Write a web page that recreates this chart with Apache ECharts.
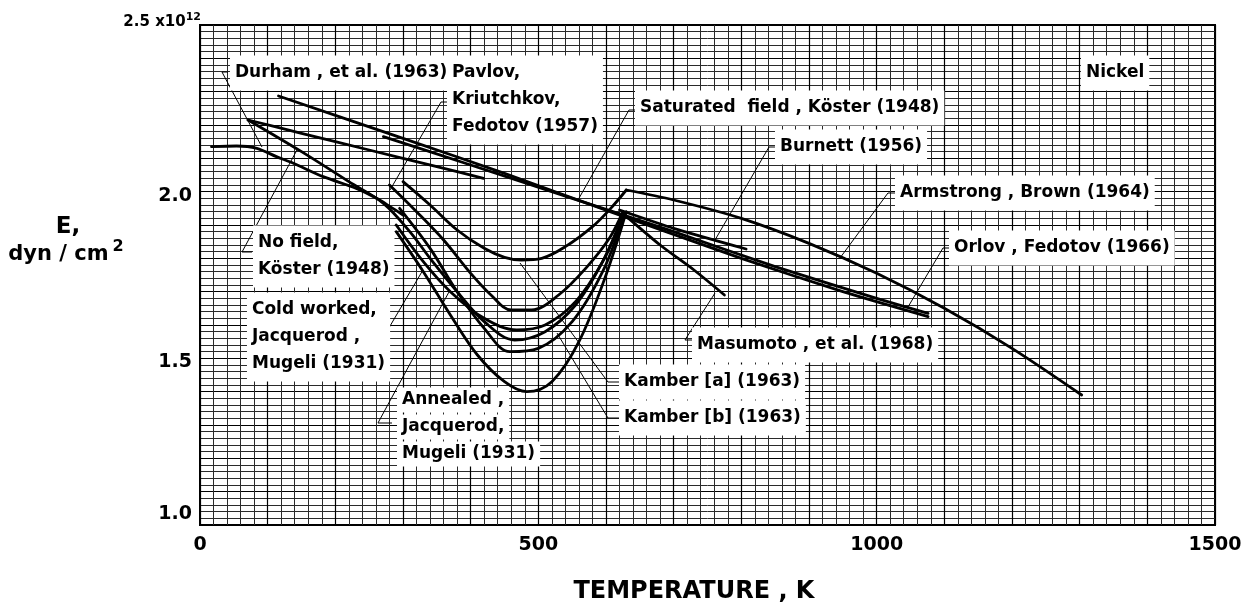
<!DOCTYPE html>
<html>
<head>
<meta charset="utf-8">
<script src="https://cdn.jsdelivr.net/npm/echarts@6/dist/echarts.min.js"></script>
<style>
  html, body { margin: 0; padding: 0; background: #fff; }
  #chart { width: 1246px; height: 606px; }
</style>
</head>
<body>
<div id="chart"></div>
<script>
// Axis tick labels
const tempTickLabels = [0, 500, 1000, 1500];
const modulusTickLabels = [1.0, 1.5, 2.0];

// Young's modulus of nickel, E (10^12 dyn/cm^2) versus temperature (K)
const durham = [[17, 2.135], [54, 2.137], [84, 2.13], [113, 2.105], [138, 2.085], [182, 2.045], [231, 2.01], [261, 1.98], [281, 1.955], [300, 1.93]];
const kosterSaturated = [[116, 2.287], [300, 2.16], [450, 2.055], [606, 1.94], [800, 1.80], [950, 1.70], [1076, 1.625]];
const kosterPartialField = [[71, 2.215], [150, 2.175], [250, 2.125], [350, 2.075], [419, 2.04]];
const kosterNoField = [[71, 2.215], [150, 2.12], [220, 2.03], [271, 1.965], [310, 1.88], [340, 1.80], [380, 1.70], [420, 1.61], [465, 1.555], [510, 1.58], [555, 1.66], [595, 1.79], [625, 1.93]];
const orlovFedotov = [[271, 2.165], [400, 2.08], [550, 1.98], [700, 1.88], [850, 1.775], [1000, 1.68], [1076, 1.635]];
const pavlov = [[280, 2.02], [320, 1.94], [360, 1.855], [400, 1.755], [430, 1.69], [460, 1.645], [490, 1.645], [530, 1.69], [570, 1.77], [605, 1.86], [625, 1.94]];
const kamberA = [[300, 2.03], [340, 1.96], [380, 1.885], [420, 1.83], [450, 1.803], [475, 1.795], [505, 1.80], [540, 1.835], [580, 1.895], [607, 1.95], [630, 2.005]];
const kamberB = [[295, 1.95], [340, 1.83], [380, 1.70], [420, 1.59], [458, 1.52], [500, 1.53], [550, 1.61], [595, 1.76], [625, 1.92]];
const annealed = [[290, 1.90], [330, 1.79], [370, 1.70], [420, 1.62], [468, 1.585], [510, 1.60], [555, 1.67], [595, 1.79], [625, 1.925]];
const coldWorked = [[290, 1.88], [330, 1.76], [370, 1.63], [410, 1.51], [450, 1.43], [483, 1.40], [520, 1.43], [560, 1.55], [600, 1.75], [630, 1.94]];
const armstrongBrown = [[630, 2.005], [700, 1.975], [800, 1.92], [900, 1.845], [1000, 1.755], [1100, 1.65], [1200, 1.53], [1303, 1.39]];
const burnett = [[620, 1.945], [700, 1.89], [807, 1.828]];
const masumoto = [[625, 1.935], [680, 1.84], [730, 1.765], [775, 1.69]];

const curves = [
  { name: 'Durham', data: durham, smooth: 0.3 },
  { name: 'Köster saturated', data: kosterSaturated, smooth: 0.2 },
  { name: 'Köster partial', data: kosterPartialField, smooth: 0.2 },
  { name: 'Köster no field', data: kosterNoField, smooth: 0.35 },
  { name: 'Orlov', data: orlovFedotov, smooth: 0.2 },
  { name: 'Pavlov', data: pavlov, smooth: 0.35 },
  { name: 'Kamber a', data: kamberA, smooth: 0.35 },
  { name: 'Kamber b', data: kamberB, smooth: 0.35 },
  { name: 'Annealed', data: annealed, smooth: 0.35 },
  { name: 'Cold worked', data: coldWorked, smooth: 0.35 },
  { name: 'Armstrong', data: armstrongBrown, smooth: 0.3 },
  { name: 'Burnett', data: burnett, smooth: 0.2 },
  { name: 'Masumoto', data: masumoto, smooth: 0.3 }
];

// Callout labels: text lines, anchor of the first line (left edge), leader polyline,
// and whether the white backing is one block or one strip per line
const FONT_FAMILY = '"DejaVu Sans", Verdana, sans-serif';
const FONT = 'bold 17px ' + FONT_FAMILY;
const callouts = [
  { lines: ['Durham , et al. (1963)'], at: [51.7, 2.356], leader: [[41.4, 2.359], [32.5, 2.359], [91.6, 2.134]] },
  { lines: ['Pavlov,', 'Kriutchkov,', 'Fedotov (1957)'], at: [372.4, 2.356], leader: [[365.0, 2.269], [356.2, 2.269], [280.8, 2.005]] },
  { lines: ['Saturated  field , Köster (1948)'], at: [650.2, 2.251], leader: [[644.3, 2.245], [634.0, 2.245], [558.6, 1.975]] },
  { lines: ['Nickel'], at: [1309.3, 2.356], leader: null },
  { lines: ['Burnett (1956)'], at: [857.1, 2.134], leader: [[851.2, 2.134], [840.9, 2.134], [761.1, 1.855]] },
  { lines: ['Armstrong , Brown (1964)'], at: [1034.5, 1.996], leader: [[1028.5, 1.996], [1016.7, 1.996], [945.8, 1.801]] },
  { lines: ['Orlov , Fedotov (1966)'], at: [1114.3, 1.831], leader: [[1108.4, 1.831], [1098.0, 1.831], [1046.3, 1.654]] },
  { lines: ['Masumoto , et al. (1968)'], at: [734.5, 1.54], leader: [[727.1, 1.555], [716.7, 1.555], [761.1, 1.696]] },
  { lines: ['Kamber [a] (1963)'], at: [626.6, 1.429], leader: [[620.7, 1.429], [602.9, 1.429], [472.9, 1.786]] },
  { lines: ['Kamber [b] (1963)'], at: [626.6, 1.321], leader: [[620.7, 1.321], [602.9, 1.321], [527.6, 1.576]] },
  { lines: ['No field,', 'Köster (1948)'], at: [85.7, 1.846], leader: [[76.8, 1.819], [62.1, 1.819], [143.3, 2.125]] },
  { lines: ['Cold worked,', 'Jacquerod ,', 'Mugeli (1931)'], at: [76.8, 1.645], leader: [[251.2, 1.561], [270.4, 1.561], [329.5, 1.765]] },
  { lines: ['Annealed ,', 'Jacquerod,', 'Mugeli (1931)'], at: [298.5, 1.375], perLine: true, leader: [[283.7, 1.306], [263.0, 1.306], [369.5, 1.705]] }
];

const chart = echarts.init(document.getElementById('chart'), null, { renderer: 'canvas' });

const curveSeries = curves.map(c => ({
  name: c.name,
  type: 'line',
  data: c.data,
  smooth: c.smooth,
  showSymbol: false,
  silent: true,
  z: 4,
  lineStyle: { color: '#000', width: 2.8, cap: 'round', join: 'round' }
}));

const leaderSeries = callouts.filter(c => c.leader).map((c, i) => ({
  name: 'leader' + i,
  type: 'line',
  data: c.leader,
  showSymbol: false,
  silent: true,
  z: 3,
  lineStyle: { color: '#000', width: 1 }
}));

const tickFont = { color: '#000', fontSize: 19, fontWeight: 'bold', fontFamily: 'DejaVu Sans' };

chart.setOption({
  animation: false,
  backgroundColor: '#fff',
  grid: { left: 200, right: 31, top: 25, bottom: 81, show: true, borderColor: '#000', borderWidth: 2, backgroundColor: 'transparent' },
  xAxis: {
    type: 'value', min: 0, max: 1500, interval: 100,
    axisLine: { show: false },
    axisTick: { show: false },
    axisLabel: Object.assign({ margin: 11, formatter: v => tempTickLabels.includes(v) ? String(v) : '' }, tickFont),
    splitLine: { show: true, lineStyle: { color: '#000', width: 1.2 } },
    minorTick: { show: false, splitNumber: 5 },
    minorSplitLine: { show: true, lineStyle: { color: '#2a2a2a', width: 1 } }
  },
  yAxis: {
    type: 'value', min: 1.0, max: 2.5, interval: 0.1,
    axisLine: { show: false },
    axisTick: { show: false },
    axisLabel: Object.assign({
      margin: 8,
      formatter: v => {
        const hit = modulusTickLabels.find(t => Math.abs(t - v) < 1e-6);
        if (hit === undefined) return '';
        return hit === 1.0 ? '{low|1.0}' : '{mid|' + hit.toFixed(1) + '}';
      },
      rich: {
        low: Object.assign({ padding: [0, 0, 22, 0] }, tickFont),
        mid: Object.assign({ padding: [8, 0, 0, 0] }, tickFont)
      }
    }, tickFont),
    splitLine: { show: true, lineStyle: { color: '#000', width: 1.2 } },
    minorTick: { show: false, splitNumber: 5 },
    minorSplitLine: { show: true, lineStyle: { color: '#2a2a2a', width: 1 } }
  },
  series: curveSeries.concat(leaderSeries)
});

// Text annotations placed from data coordinates
const LINE_H = 27;
const PAD = [4, 5, 4, 5];
const graphics = [];
callouts.forEach(c => {
  const p = chart.convertToPixel({ gridIndex: 0 }, c.at);
  if (c.perLine) {
    c.lines.forEach((line, k) => {
      graphics.push({
        type: 'text', z: 20,
        x: p[0] - PAD[3],
        y: p[1] + k * LINE_H,
        style: {
          text: line, font: FONT, fill: '#000',
          verticalAlign: 'middle', align: 'left',
          backgroundColor: '#fff', padding: PAD
        }
      });
    });
  } else {
    graphics.push({
      type: 'text', z: 20,
      x: p[0] - PAD[3],
      y: p[1] - LINE_H / 2 - PAD[0],
      style: {
        text: c.lines.join('\n'), font: FONT, fill: '#000',
        lineHeight: LINE_H, verticalAlign: 'top', align: 'left',
        backgroundColor: '#fff', padding: PAD
      }
    });
  }
});

// Scale factor at the top of the modulus axis
const corner = chart.convertToPixel({ gridIndex: 0 }, [0, 2.5]);
graphics.push({
  type: 'text', z: 20, x: corner[0] + 1, y: corner[1] - 3,
  style: {
    text: '{b|2.5 x10}{s|12}',
    align: 'right', verticalAlign: 'middle',
    rich: {
      b: { font: 'bold 15px ' + FONT_FAMILY, color: '#000' },
      s: { font: 'bold 11px ' + FONT_FAMILY, color: '#000', padding: [0, 0, 9, 0] }
    }
  }
});

// Axis titles
const midE = chart.convertToPixel({ gridIndex: 0 }, [0, 1.9]);
graphics.push({
  type: 'text', z: 20, x: 68, y: midE[1] + 2,
  style: { text: 'E,', font: 'bold 23px ' + FONT_FAMILY, fill: '#000', align: 'center', verticalAlign: 'middle' }
});
graphics.push({
  type: 'text', z: 20, x: 66, y: midE[1] + 30,
  style: {
    text: '{b|dyn / cm}{s|2}', align: 'center', verticalAlign: 'middle',
    rich: {
      b: { font: 'bold 21px ' + FONT_FAMILY, color: '#000' },
      s: { font: 'bold 16px ' + FONT_FAMILY, color: '#000', padding: [0, 0, 16, 4] }
    }
  }
});
const midT = chart.convertToPixel({ gridIndex: 0 }, [730, 1.0]);
graphics.push({
  type: 'text', z: 20, x: midT[0], y: midT[1] + 67,
  style: { text: 'TEMPERATURE , K', font: 'bold 24px ' + FONT_FAMILY, fill: '#000', align: 'center', verticalAlign: 'middle' }
});

chart.setOption({ graphic: graphics });
</script>
</body>
</html>
